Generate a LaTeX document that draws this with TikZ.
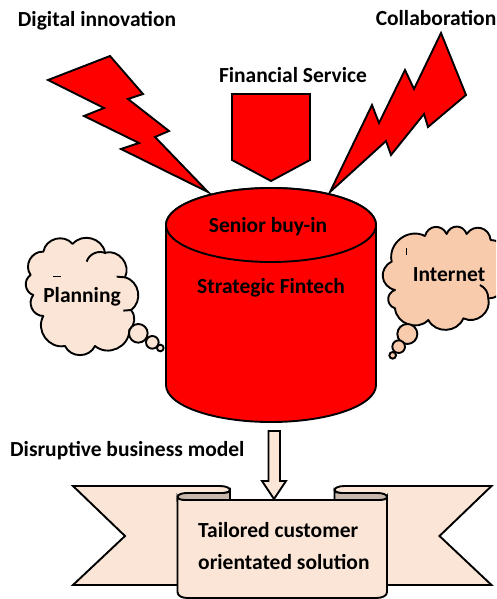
\documentclass[tikz,border=0pt]{standalone}
\usepackage{fontspec}
\setmainfont{Carlito}
\definecolor{peach}{HTML}{FBE5D6}
\definecolor{peachdk}{HTML}{F8CBAD}
\definecolor{curl}{HTML}{C9B7AB}
\tikzset{
  shapeline/.style={draw=black,line width=1.9pt,line join=miter},
  redshape/.style={shapeline,fill=red},
  peachshape/.style={shapeline,fill=peach},
  inner line/.style={line width=1.9pt},
  label/.style={font=\fontsize{21.5}{24}\selectfont\bfseries,text=black,inner sep=0pt},
  lobe/.style={bend left=65,looseness=1.15},
  biglobe/.style={bend left=70,looseness=1.35}
}
\begin{document}
\begin{tikzpicture}[x=1pt,y=-1pt]
\useasboundingbox (0,0) rectangle (496,599);
\begin{scope}
\clip (0,0) rectangle (496,599);
% lightning left
\draw[redshape] (110,56)--(143,94)--(128,99)--(169,131)--(155,137)--(208,192)--(121,149)--(139,143)--(84,116)--(104,108)--(48,80)--cycle;
% lightning right
\draw[redshape] (441,33)--(466,95)--(428,127)--(424,114)--(391,155)--(386,141)--(330,192)--(372,105)--(379,123)--(405,70)--(414,89)--cycle;
% pentagon
\draw[redshape] (232,94)--(310,94)--(310,160)--(271,181)--(232,160)--cycle;
% cylinder
\draw[redshape] (166,225) -- (166,385) .. controls (166,405.4) and (213,422) .. (271,422) .. controls (329,422) and (376,405.4) .. (376,385) -- (376,225) .. controls (376,204.6) and (329,188) .. (271,188) .. controls (213,188) and (166,204.6) .. (166,225) -- cycle;
\draw[redshape] (271,225) ellipse[x radius=105,y radius=37];
% planning cloud
\begin{scope}[shift={(0,220)},x=0.3333pt,y=-0.3333pt]
\draw[shapeline,fill=peach,line join=round] (130,95) to[lobe] (218,72) to[lobe] (315,98) to[lobe] (375,172) to[lobe] (393,270) to[bend left=45] (388,330) to[lobe] (285,378) to[lobe] (195,378) to[lobe] (130,288) to[lobe] (100,225) to[lobe] (92,165) to[lobe] cycle;
\draw[inner line] (260,125) to[bend left=50] (318,100);
\draw[inner line] (350,170)--(375,172);
\draw[inner line] (370,272)--(393,270);
\draw[line width=1pt] (160,169)--(182,169);
\draw[shapeline,fill=peach] (415,340) circle[radius=28];
\draw[shapeline,fill=peach] (457,367) circle[radius=19];
\draw[shapeline,fill=peach] (481,384) circle[radius=10];
\end{scope}
% internet cloud
\begin{scope}[shift={(370,210)},x=0.3333pt,y=-0.3333pt]
\draw[shapeline,fill=peachdk,line join=round] (75,240) to[biglobe] (65,155) to[lobe] (165,78) to[biglobe] (230,72) to[biglobe] (290,72) to[biglobe] (362,90) to[lobe] (400,170) to[lobe] (355,265) to[lobe] (280,325) to[lobe] (175,330) to[lobe] (75,295) to[biglobe] cycle;
\draw[inner line] (330,225) to[bend left=30] (355,265);
\draw[line width=1pt] (110,115)--(110,135);
\draw[shapeline,fill=peachdk] (112,372) circle[radius=30];
\draw[shapeline,fill=peachdk] (86,410) circle[radius=19];
\draw[shapeline,fill=peachdk] (68,436) circle[radius=10];
\end{scope}
% ribbon tails
\draw[shapeline,fill=peach] (190,585)--(73,585)--(125,536)--(73,486)--(220,486) .. controls (226,486) and (230,488) .. (230,490) .. controls (230,492) and (226,493) .. (222,493) -- (190,493) -- cycle;
\draw[shapeline,fill=peach] (374.5,585)--(491.5,585)--(439.5,536)--(491.5,486)--(344.5,486) .. controls (338.5,486) and (334.5,488) .. (334.5,490) .. controls (334.5,492) and (338.5,493) .. (342.5,493) -- (374.5,493) -- cycle;
\draw[shapeline,fill=curl] (177.5,497) .. controls (177.5,494.5) and (182,493) .. (187,493) -- (224,493) .. controls (227,493) and (230,492) .. (230,490) -- (230,501) -- (177.5,501) -- cycle;
\draw[shapeline,fill=curl] (387,497) .. controls (387,494.5) and (382.5,493) .. (377.5,493) -- (340.5,493) .. controls (337.5,493) and (334.5,492) .. (334.5,490) -- (334.5,501) -- (387,501) -- cycle;
% front panel
\draw[shapeline,fill=peach] (177.5,497) .. controls (177.5,499) and (181,500) .. (186,500) -- (378.5,500) .. controls (383.5,500) and (387,499) .. (387,497) -- (387,592) .. controls (387,596) and (382,598) .. (376,598) -- (188,598) .. controls (182,598) and (177.5,596) .. (177.5,592) -- cycle;
% block arrow
\draw[peachshape] (268.5,431)--(280,431)--(280,481)--(286,481)--(274,499)--(262,481)--(268.5,481)--cycle;
\end{scope}
% texts
\node[label] (digital) at (97,21) {Digital innovation};
\node[label] (financial) at (293,75) {Financial Service};
\node[label] (collab) at (436,18) {Collaboration};
\node[label] (senior) at (268,227) {Senior buy-in};
\node[label] (strategic) at (271,288) {Strategic Fintech};
\node[label] (planning) at (82,297) {Planning};
\node[label] (internet) at (449,275) {Internet};
\node[label,anchor=west] (disruptive) at (10,451) {Disruptive business model};
\node[label,anchor=west] (tailored) at (198,530) {Tailored customer};
\node[label,anchor=west] (orient) at (198,562) {orientated solution};
\end{tikzpicture}
\end{document}
